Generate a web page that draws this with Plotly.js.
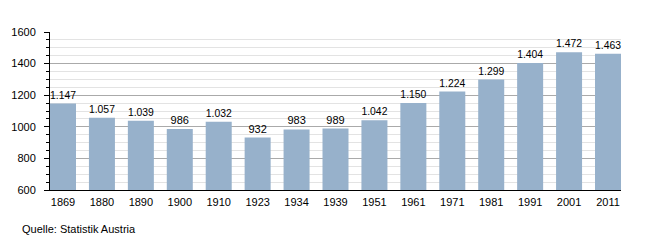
<!DOCTYPE html>
<html>
<head>
<meta charset="utf-8">
<script src="https://cdn.plot.ly/plotly-3.0.1.min.js"></script>
<style>html,body{margin:0;padding:0;background:#fff;}#chart{width:650px;height:240px;}</style>
</head>
<body>
<div id="chart"></div>
<script>
const years = ["1869","1880","1890","1900","1910","1923","1934","1939","1951","1961","1971","1981","1991","2001","2011"];
const population = [1147,1057,1039,986,1032,932,983,989,1042,1150,1224,1299,1404,1472,1463];
const yTicks = [600,800,1000,1200,1400,1600];
const sourceText = "Quelle: Statistik Austria";

const trace = {
  type: 'bar',
  x: years,
  y: population,
  marker: {color: '#97b1cb', line: {width: 0}},
  width: 0.668,
  texttemplate: '%{y:,}',
  textposition: 'outside',
  textfont: {family: 'Liberation Sans, Arial, sans-serif', size: 11, color: '#000'},
  cliponaxis: false,
  hoverinfo: 'none'
};

const layout = {
  width: 650, height: 240,
  margin: {l: 50, r: 29, t: 32, b: 50},
  paper_bgcolor: '#fff', plot_bgcolor: '#fff',
  separators: ',.',
  font: {family: 'Liberation Sans, Arial, sans-serif', size: 11, color: '#000'},
  showlegend: false,
  bargap: 0.332,
  xaxis: {
    type: 'category',
    range: [-0.334, 14.334],
    showline: true, linecolor: '#000', linewidth: 1,
    showgrid: false, ticks: '', zeroline: false,
    ticklabelstandoff: 2,
    tickfont: {size: 11, color: '#000'}
  },
  yaxis: {
    range: [600, 1600],
    tickvals: yTicks,
    ticktext: yTicks.map(String),
    showline: true, linecolor: '#000', linewidth: 1,
    ticks: 'outside', ticklen: 5, tickcolor: '#000', tickwidth: 1,
    ticklabelstandoff: 6,
    showgrid: true, gridcolor: '#aaaaaa', gridwidth: 1,
    zeroline: false,
    minor: {dtick: 50, ticks: 'outside', ticklen: 3, tickcolor: '#000', showgrid: true, gridcolor: '#e3e3e3', gridwidth: 1},
    tickfont: {size: 11, color: '#000'}
  },
  annotations: [{
    text: sourceText, xref: 'paper', yref: 'paper',
    x: -0.0525, y: -0.247, xanchor: 'left', yanchor: 'middle',
    showarrow: false, font: {size: 11, color: '#000'}
  }]
};

Plotly.newPlot('chart', [trace], layout, {staticPlot: true, displayModeBar: false});
</script>
</body>
</html>
